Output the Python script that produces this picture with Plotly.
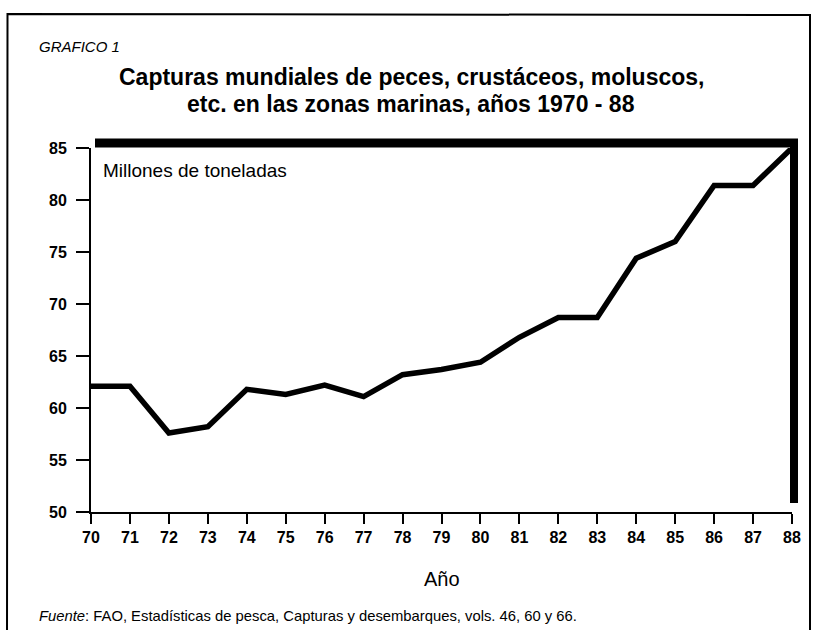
import plotly.graph_objects as go

# ---- data ----
years = list(range(1970, 1989))
year_labels = [str(y)[2:] for y in years]
catches = [62.1, 62.1, 57.6, 58.2, 61.8, 61.3, 62.2, 61.1, 63.2, 63.7, 64.4,
           66.8, 68.7, 68.7, 74.4, 76.0, 81.4, 81.4, 85.0]
y_ticks = [50, 55, 60, 65, 70, 75, 80, 85]
y_labels = [str(v) for v in y_ticks]

W, H = 813, 630
L, R, T, B = 91, 792, 148, 512  # plot area in pixels

def px(x):
    return (x - L) / (R - L)

def py(y):
    return (B - y) / (B - T)

FONT = "Liberation Sans, Arial, Helvetica, sans-serif"

fig = go.Figure()
fig.add_trace(go.Scatter(
    x=years, y=catches, mode="lines",
    line=dict(color="black", width=5.5, shape="linear"),
    cliponaxis=False, hoverinfo="x+y"))

tickfont = dict(size=16, family=FONT, color="black", weight="bold")

fig.update_layout(
    width=W, height=H,
    margin=dict(l=L, r=W - R, t=T, b=H - B, pad=0),
    paper_bgcolor="white", plot_bgcolor="white",
    showlegend=False,
    font=dict(family=FONT, color="black", size=15),
    xaxis=dict(range=[1970, 1988], tickvals=years, ticktext=year_labels,
               showgrid=False, zeroline=False, showline=True, linecolor="black",
               linewidth=2, ticks="outside", ticklen=10, tickwidth=2,
               tickcolor="black", tickfont=tickfont, fixedrange=True),
    yaxis=dict(range=[50, 85], tickvals=y_ticks, ticktext=y_labels,
               showgrid=False, zeroline=False, showline=True, linecolor="black",
               linewidth=2, ticks="outside", ticklen=13, tickwidth=2,
               tickcolor="black", tickfont=tickfont, ticklabelstandoff=6,
               fixedrange=True),
)

def path(points):
    return "M " + " L ".join(f"{x},{y}" for x, y in points)

shapes = [
    # outer figure border (slightly skewed scan)
    dict(type="path", xref="paper", yref="paper",
         path=path([(px(7), py(660)), (px(7.5), py(14)), (px(810), py(15)), (px(810), py(660))]),
         line=dict(color="black", width=2), layer="above"),
    # thick top frame
    dict(type="line", xref="paper", yref="paper",
         x0=px(95), x1=px(798), y0=py(143), y1=py(143),
         line=dict(color="black", width=9), layer="above"),
    # thick right frame
    dict(type="line", xref="paper", yref="paper",
         x0=px(794), x1=px(794), y0=py(139), y1=py(503),
         line=dict(color="black", width=8), layer="above"),
]
fig.update_layout(shapes=shapes)

ann = [
    dict(text="<i>GRAFICO 1</i>", x=px(37), y=py(46), xanchor="left", yanchor="middle",
         font=dict(size=15)),
    dict(text="<b>Capturas mundiales de peces, crustáceos, moluscos,</b>",
         x=px(411), y=py(77), xanchor="center", yanchor="middle", font=dict(size=23)),
    dict(text="<b>etc. en las zonas marinas, años 1970 - 88</b>",
         x=px(411), y=py(104), xanchor="center", yanchor="middle", font=dict(size=23)),
    dict(text="Millones de toneladas", x=px(101), y=py(170), xanchor="left",
         yanchor="middle", font=dict(size=19)),
    dict(text="Año", x=px(442), y=py(579), xanchor="center", yanchor="middle",
         font=dict(size=20)),
    dict(text="<i>Fuente</i>: FAO, Estadísticas de pesca, Capturas y desembarques, vols. 46, 60 y 66.",
         x=px(37), y=py(616), xanchor="left", yanchor="middle", font=dict(size=14.8)),
]
for a in ann:
    a.update(xref="paper", yref="paper", showarrow=False)
fig.update_layout(annotations=ann)

fig.write_html("out.html", config={"displayModeBar": False},
               post_script="document.body.style.margin='0';")
